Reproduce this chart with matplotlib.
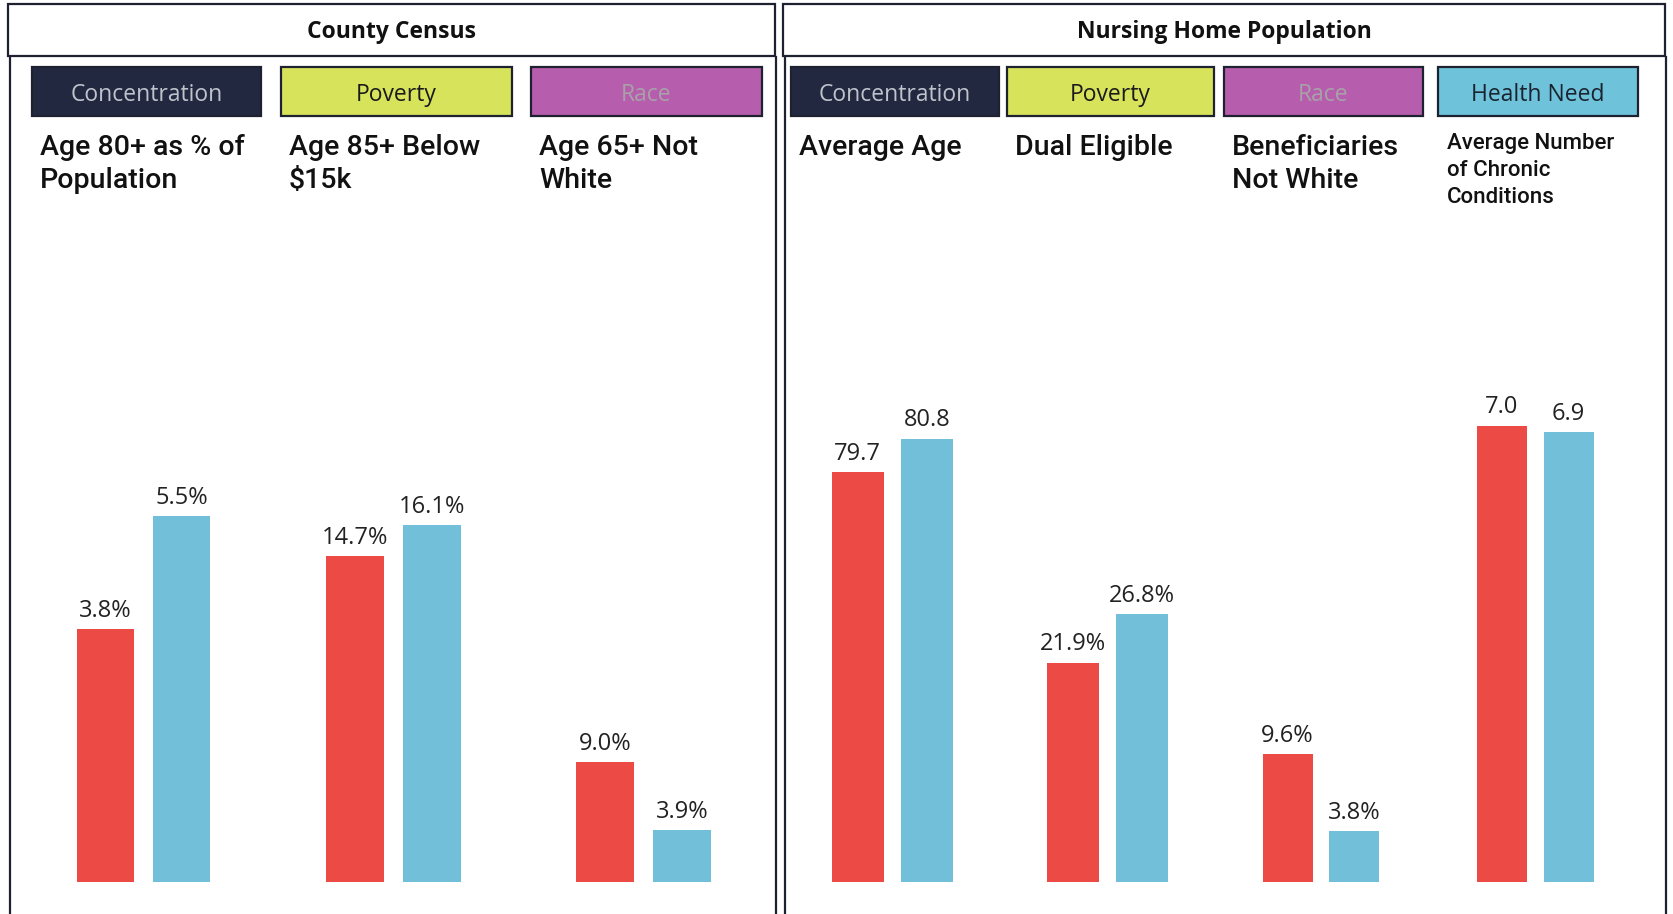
"""
plot.py
County census vs nursing home population - paired bar panels
"""

import matplotlib.pyplot as plt
from matplotlib.patches import Rectangle

# ---- data -------------------------------------------------------------
county_tags = ["Concentration", "Poverty", "Race"]
county_titles = ["Age 80+ as % of\nPopulation", "Age 85+ Below\n$15k", "Age 65+ Not\nWhite"]
county_red = [3.8, 14.7, 9.0]
county_blue = [5.5, 16.1, 3.9]
county_labels_red = ["3.8%", "14.7%", "9.0%"]
county_labels_blue = ["5.5%", "16.1%", "3.9%"]
county_ylim = [(0, 10), (0, 30), (0, 50)]

nh_tags = ["Concentration", "Poverty", "Race", "Health Need"]
nh_titles = ["Average Age", "Dual Eligible", "Beneficiaries\nNot White",
             "Average Number\nof Chronic\nConditions"]
nh_red = [79.7, 21.9, 9.6, 7.0]
nh_blue = [80.8, 26.8, 3.8, 6.9]
nh_labels_red = ["79.7", "21.9%", "9.6%", "7.0"]
nh_labels_blue = ["80.8", "26.8%", "3.8%", "6.9"]
nh_ylim = [(66.2, 88.1), (0, 66.5), (0, 50), (0, 10.2)]

# ---- style ------------------------------------------------------------
W, H = 1673, 914
RED = "#EC4A45"
BLUE = "#72BFD9"
TAG_STYLE = {
    "Concentration": ("#232841", "#BFC4CC"),
    "Poverty": ("#D7E35B", "#1A1A1A"),
    "Race": ("#B65DAD", "#A8A2A8"),
    "Health Need": ("#6EC3DB", "#1A2430"),
}
EDGE = "#1E2230"

fig = plt.figure(figsize=(W / 100, H / 100), dpi=100)
bg = fig.add_axes([0, 0, 1, 1])
bg.set_xlim(0, W)
bg.set_ylim(H, 0)
bg.axis("off")


def frame(x0, x1, title):
    bg.add_patch(Rectangle((x0, 4), x1 - x0, 52, facecolor="white",
                           edgecolor=EDGE, linewidth=1.6))
    bg.text((x0 + x1) / 2, 32, title, ha="center", va="center",
            fontsize=16.5, fontweight="bold", family="Open Sans", color="#111111")
    bg.plot([x0 + 2, x0 + 2], [57, H], color=EDGE, linewidth=1.6)
    bg.plot([x1 + 1, x1 + 1], [57, H], color=EDGE, linewidth=1.6)


def tile(x0, x1, tag, title, red, blue, lab_red, lab_blue, ylim):
    face, txt = TAG_STYLE[tag]
    bg.add_patch(Rectangle((x0, 67), x1 - x0, 49, facecolor=face,
                           edgecolor=EDGE, linewidth=1.6))
    bg.text((x0 + x1) / 2, 95, tag, ha="center", va="center",
            fontsize=16.5, family="Open Sans", color=txt)
    if title.count("\n") >= 2:
        bg.text(x0 + 9, 133, title, ha="left", va="top", fontsize=16,
                family="Roboto", fontweight="medium", linespacing=1.38, color="#111111")
    else:
        bg.text(x0 + 8, 134, title, ha="left", va="top", fontsize=20.5,
                family="Roboto", fontweight="medium", linespacing=1.3, color="#111111")

    # bar axes spans the tag box horizontally, plot area 217..882 px
    ax = fig.add_axes([x0 / W, 1 - 882 / H, (x1 - x0) / W, 665 / H])
    ax.bar([0], [red], width=0.75, color=RED)
    ax.bar([1], [blue], width=0.75, color=BLUE)
    ax.set_xlim(-0.96, 2.04)
    ax.set_ylim(*ylim)
    ax.axis("off")
    for x, v, s in [(0, red, lab_red), (1, blue, lab_blue)]:
        ax.annotate(s, (x, v), xytext=(0, 9), textcoords="offset points",
                    ha="center", va="baseline", fontsize=17,
                    family="Open Sans", color="#222222")


frame(8, 775, "County Census")
frame(783, 1665, "Nursing Home Population")

county_boxes = [(32, 261), (281, 512), (531, 762)]
for i, (x0, x1) in enumerate(county_boxes):
    tile(x0, x1, county_tags[i], county_titles[i], county_red[i], county_blue[i],
         county_labels_red[i], county_labels_blue[i], county_ylim[i])

nh_boxes = [(791, 999), (1007, 1214), (1224, 1423), (1438, 1638)]
for i, (x0, x1) in enumerate(nh_boxes):
    tile(x0, x1, nh_tags[i], nh_titles[i], nh_red[i], nh_blue[i],
         nh_labels_red[i], nh_labels_blue[i], nh_ylim[i])

fig.savefig("out.png", dpi=100)
print("Saved: out.png")
